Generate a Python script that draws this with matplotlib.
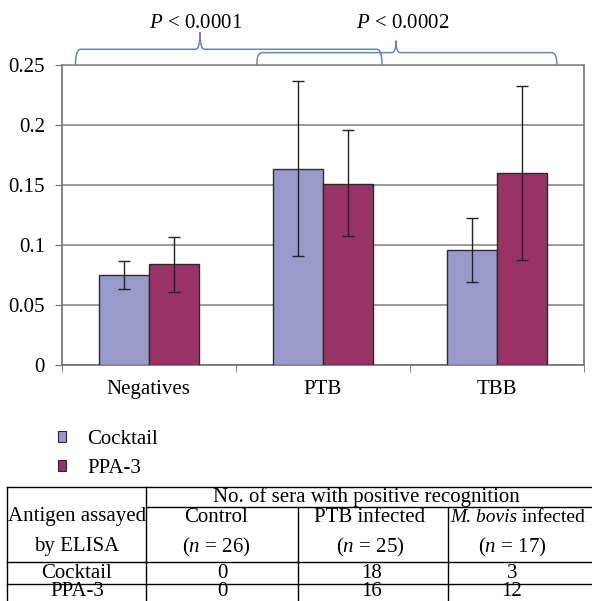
import matplotlib
matplotlib.use("Agg")
import matplotlib.pyplot as plt
from matplotlib.path import Path
from matplotlib.patches import PathPatch, Patch
import numpy as np

# ── data ──────────────────────────────────────────────────────────────────
categories = ["Negatives", "PTB", "TBB"]
series = ["Cocktail", "PPA-3"]
cocktail_mean = [0.075, 0.1636, 0.0956]
cocktail_lo = [0.0633, 0.0908, 0.0689]
cocktail_hi = [0.0867, 0.2370, 0.1228]
ppa3_mean = [0.0842, 0.1508, 0.1597]
ppa3_lo = [0.0606, 0.1075, 0.0878]
ppa3_hi = [0.1070, 0.1960, 0.2328]

p_labels = ["< 0.0001", "< 0.0002"]

table_cols = ["Control", "PTB infected", "M. bovis infected"]
table_n = [26, 25, 17]
table_rows = ["Cocktail", "PPA-3"]
table_vals = [[0, 18, 3], [0, 16, 12]]

COLORS = {
    "cocktail": "#9999CC",
    "ppa3": "#993366",
    "edge": "#2a2a2a",
    "grid": "#8a8a8a",
    "axis": "#707070",
    "brace": "#6a84b8",
}

plt.rcParams["font.family"] = ["Liberation Serif", "DejaVu Serif"]
plt.rcParams["mathtext.fontset"] = "custom"
plt.rcParams["mathtext.rm"] = "Liberation Serif"
plt.rcParams["mathtext.it"] = "Liberation Serif:italic"
FS = 15

W, H = 592, 601
fig = plt.figure(figsize=(W / 100, H / 100), dpi=100)
ax = fig.add_axes([61.7 / W, 1 - 365 / H, (584.3 - 61.7) / W, 300 / H])

x = np.arange(len(categories))
bw = 0.287
c_err = [np.subtract(cocktail_mean, cocktail_lo), np.subtract(cocktail_hi, cocktail_mean)]
p_err = [np.subtract(ppa3_mean, ppa3_lo), np.subtract(ppa3_hi, ppa3_mean)]
ax.bar(x - bw / 2, cocktail_mean, bw, color=COLORS["cocktail"], edgecolor=COLORS["edge"],
       linewidth=1.0, zorder=3, yerr=c_err, capsize=4,
       error_kw={"elinewidth": 1.0, "ecolor": "#222222", "capthick": 1.0, "zorder": 4})
ax.bar(x + bw / 2, ppa3_mean, bw, color=COLORS["ppa3"], edgecolor=COLORS["edge"],
       linewidth=1.0, zorder=3, yerr=p_err, capsize=4,
       error_kw={"elinewidth": 1.0, "ecolor": "#222222", "capthick": 1.0, "zorder": 4})

ax.set_xlim(-0.5, 2.5)
ax.set_ylim(0, 0.25)
ax.set_yticks([0, 0.05, 0.1, 0.15, 0.2, 0.25])
ax.set_yticklabels(["0", "0.05", "0.1", "0.15", "0.2", "0.25"], fontsize=FS)
ax.set_xticks(x)
ax.set_xticklabels(categories, fontsize=FS)
ax.set_xticks([-0.5, 0.5, 1.5, 2.5], minor=True)
ax.tick_params(axis="x", which="major", length=0, pad=11)
ax.tick_params(axis="x", which="minor", length=5, color=COLORS["axis"])
ax.tick_params(axis="y", length=5, color=COLORS["axis"], pad=7)
ax.yaxis.grid(True, color=COLORS["grid"], linewidth=1.2, zorder=0)
ax.set_axisbelow(True)
for s in ["left", "bottom", "right"]:
    ax.spines[s].set_color(COLORS["axis"])
    ax.spines[s].set_linewidth(1.2)
ax.spines["top"].set_color(COLORS["grid"])
ax.spines["top"].set_linewidth(1.2)


# ── curly braces with P values ────────────────────────────────────────────
def brace(x0, x1, tip, h, top, base=0.25, rx=0.03, tx=0.025):
    verts = [(x0, base), (x0, h), (x0 + rx, h),
             (tip - tx, h), (tip, h), (tip, top),
             (tip, h), (tip + tx, h),
             (x1 - rx, h), (x1, h), (x1, base)]
    codes = [Path.MOVETO, Path.CURVE3, Path.CURVE3,
             Path.LINETO, Path.CURVE3, Path.CURVE3,
             Path.CURVE3, Path.CURVE3,
             Path.LINETO, Path.CURVE3, Path.CURVE3]
    ax.add_patch(PathPatch(Path(verts, codes), facecolor="none", edgecolor=COLORS["brace"],
                           linewidth=1.1, clip_on=False, zorder=5))


brace(-0.421, 1.339, 0.294, 0.2631, 0.2773)
brace(0.620, 2.343, 1.419, 0.2603, 0.2703)
ax.text(0.27, 0.2847, "$P$ " + p_labels[0], ha="center", va="center", fontsize=FS, clip_on=False)
ax.text(1.46, 0.2847, "$P$ " + p_labels[1], ha="center", va="center", fontsize=FS, clip_on=False)

# ── legend ───────────────────────────────────────────────────────────────
handles = [Patch(facecolor=COLORS["cocktail"], edgecolor=COLORS["edge"], linewidth=0.8, label=series[0]),
           Patch(facecolor=COLORS["ppa3"], edgecolor=COLORS["edge"], linewidth=0.8, label=series[1])]
fig.legend(handles=handles, loc="upper left", bbox_to_anchor=(39 / W, 1 - 411 / H), frameon=False,
           fontsize=FS, handlelength=0.4, handleheight=0.4, handletextpad=1.0, labelspacing=0.5)

# ── table below the chart (pixel overlay) ────────────────────────────────
ov = fig.add_axes([0, 0, 1, 1])
ov.set_xlim(0, W)
ov.set_ylim(H, 0)
ov.axis("off")

xl, xc1, xc2, xc3, xr = 6.8, 146.4, 298.0, 448.3, 600
yt, yh1, yh2, yr1, yb = 487.3, 507.3, 562.3, 584.0, 601
lk = dict(color="black", linewidth=1.0)
ov.plot([xl, xr], [yt, yt], **lk)
ov.plot([xc1, xr], [yh1, yh1], **lk)
ov.plot([xl, xr], [yh2, yh2], **lk)
ov.plot([xl, xr], [yr1, yr1], **lk)
for xv in [xl, xc1]:
    ov.plot([xv, xv], [yt, yb], **lk)
for xv in [xc2, xc3]:
    ov.plot([xv, xv], [yh1, yb], **lk)

ov.text(366, 497, "No. of sera with positive recognition", ha="center", va="center", fontsize=FS)
ov.text(77, 517, "Antigen assayed", ha="center", va="center", fontsize=FS)
ov.text(77, 547, "by ELISA", ha="center", va="center", fontsize=FS)
col_cx = [216, 370]
for cx, lab in zip(col_cx, table_cols[:2]):
    ov.text(cx, 517, lab, ha="center", va="center", fontsize=FS)
genus, rest = table_cols[2].split(" infected")[0], " infected"
ov.text(450, 517, genus, ha="left", va="center", fontsize=14, style="italic")
ov.text(517, 517, rest, ha="left", va="center", fontsize=14)
for cx, n in zip([216, 370, 512], table_n):
    ov.text(cx, 547, f"($n$ = {n})", ha="center", va="center", fontsize=FS)
row_y = [573, 592]
for ry, rlab, vals in zip(row_y, table_rows, table_vals):
    ov.text(77, ry, rlab, ha="center", va="center", fontsize=FS)
    for cx, v in zip([222, 372, 512], vals):
        ov.text(cx, ry, str(v), ha="center", va="center", fontsize=FS)

fig.savefig("out.png", dpi=100, facecolor="white")
